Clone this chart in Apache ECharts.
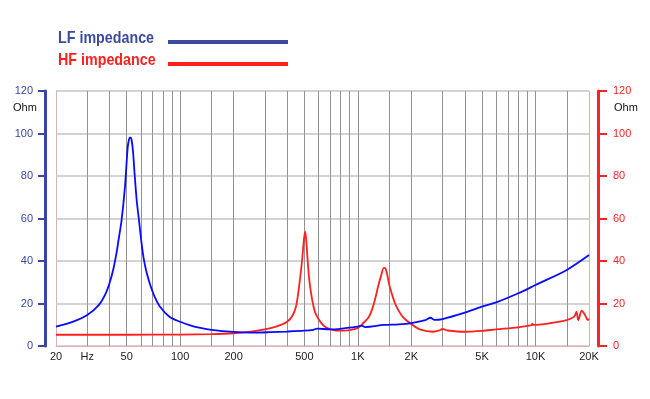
<!DOCTYPE html>
<html>
<head>
<meta charset="utf-8">
<script src="https://cdn.jsdelivr.net/npm/echarts@6/dist/echarts.min.js"></script>
<style>
  html, body { margin: 0; padding: 0; background: #fff; }
  #main { width: 650px; height: 399px; }
</style>
</head>
<body>
<div id="main"></div>
<script>
// LF impedance (blue, left axis)
var lfFreq = [20, 25, 30, 35, 38, 40, 42, 43.8, 45, 46.8, 48.9, 50.6, 51.5, 52.3, 53.2, 54.2, 55.5, 57, 58.6, 60.5, 62.5, 65, 68, 72, 77, 87, 100, 115, 130, 150, 200, 250, 320, 400, 500, 560, 590, 700, 850, 1000, 1050, 1100, 1400, 1700, 2000, 2400, 2560, 2700, 3000, 4000, 5000, 6000, 8000, 10000, 15000, 20000];
var lfOhm  = [9.1, 11.5, 14.6, 19.5, 24.5, 29.5, 36, 43.7, 50, 59.3, 75, 93, 97.2, 98.2, 97.2, 92, 80, 68, 59.3, 49, 40.5, 34, 28.5, 23, 18.5, 13.8, 11.4, 9.6, 8.5, 7.6, 6.6, 6.3, 6.5, 6.8, 7.2, 7.6, 8.2, 7.8, 8.4, 9.1, 9.6, 8.9, 9.9, 10.2, 10.8, 12.2, 13.3, 12.3, 12.7, 15.7, 18.5, 20.5, 24.8, 28.7, 35.8, 42.8];

// HF impedance (red, right axis)
var hfFreq = [20, 50, 100, 150, 200, 250, 300, 350, 400, 430, 450, 470, 485, 497, 505, 513, 520, 530, 545, 565, 580, 620, 660, 720, 790, 900, 1000, 1070, 1150, 1200, 1250, 1300, 1350, 1400, 1430, 1460, 1500, 1550, 1620, 1690, 1800, 1970, 2230, 2660, 2850, 3000, 3200, 4000, 5000, 6000, 8000, 9500, 9600, 9700, 12000, 15000, 16500, 17000, 17400, 18200, 19000, 19700, 20000];
var hfOhm  = [5.3, 5.3, 5.4, 5.6, 6.0, 6.8, 7.8, 9.2, 11.4, 14.5, 19, 30, 40, 50, 53.8, 49, 42, 33, 25, 18, 15, 11, 8.8, 7.6, 7.2, 7.5, 8.5, 10.7, 13.5, 17, 22, 28, 33, 36.8, 36.5, 34, 29, 24.8, 20, 16.9, 13.5, 10.7, 7.8, 6.7, 7.2, 8, 7.3, 6.7, 7.1, 7.8, 8.8, 9.8, 10.5, 9.9, 10.7, 12.2, 13.8, 16.1, 12.2, 16.6, 14.6, 12.2, 12.8];

// x grid lines and labels
var gridFreqs = [20, 30, 40, 50, 60, 70, 80, 90, 100, 150, 200, 300, 400, 500, 600, 700, 800, 900,
                 1000, 1500, 2000, 3000, 4000, 5000, 6000, 7000, 8000, 9000, 10000, 15000, 20000];
var xTickValues = [20, 30, 50, 100, 200, 500, 1000, 2000, 5000, 10000, 20000];
var xTickLabels = ['20', 'Hz', '50', '100', '200', '500', '1K', '2K', '5K', '10K', '20K'];

var blueAxis = '#3646a6';
var redAxis = '#ff2424';
var edgeColor = '#dcb2b2';
var legendFont = 'bold 17px "Liberation Sans", Arial, sans-serif';

var vColors = gridFreqs.map(function (f, i) {
    return (i == 0 || i == gridFreqs.length - 1) ? edgeColor : '#939393';
});

var chart = echarts.init(document.getElementById('main'));
var option = {
    animation: false,
    backgroundColor: '#fff',
    textStyle: { fontFamily: 'Liberation Sans, Arial, sans-serif' },
    grid: { left: 56, right: 61, top: 91, bottom: 53 },
    xAxis: {
        type: 'log',
        logBase: 10,
        min: 20,
        max: 20000,
        axisLine: { show: true, lineStyle: { color: edgeColor, width: 1 } },
        axisTick: { show: false, customValues: gridFreqs },
        axisLabel: {
            customValues: xTickValues,
            color: '#222',
            fontSize: 11,
            margin: 5,
            formatter: function (v) {
                for (var i = 0; i < xTickValues.length; i++) {
                    if (Math.abs(v - xTickValues[i]) / xTickValues[i] < 0.01) return xTickLabels[i];
                }
                return '';
            }
        },
        splitLine: { show: true, lineStyle: { color: vColors, width: 1 } }
    },
    yAxis: [
        {
            type: 'value',
            position: 'left',
            offset: 11,
            min: 0,
            max: 120,
            interval: 20,
            axisLine: { show: true, lineStyle: { color: blueAxis, width: 3 } },
            axisTick: { show: true, length: 7, lineStyle: { color: blueAxis, width: 2 } },
            axisLabel: { color: blueAxis, fontSize: 11, margin: 12 },
            splitLine: { show: true, lineStyle: { color: '#c4c4c4', width: 1.5 } }
        },
        {
            type: 'value',
            position: 'right',
            offset: 9,
            min: 0,
            max: 120,
            interval: 20,
            axisLine: { show: true, lineStyle: { color: redAxis, width: 3 } },
            axisTick: { show: true, length: 9, lineStyle: { color: redAxis, width: 2 } },
            axisLabel: { color: redAxis, fontSize: 11, margin: 15 },
            splitLine: { show: false }
        }
    ],
    series: [
        {
            name: 'HF impedance',
            type: 'line',
            yAxisIndex: 1,
            showSymbol: false,
            smooth: 0.3,
            lineStyle: { color: '#ff2020', width: 1.8 },
            data: hfFreq.map(function (f, i) { return [f, hfOhm[i]]; })
        },
        {
            name: 'LF impedance',
            type: 'line',
            yAxisIndex: 0,
            showSymbol: false,
            smooth: 0.3,
            lineStyle: { color: '#0a0aff', width: 1.8 },
            data: lfFreq.map(function (f, i) { return [f, lfOhm[i]]; })
        }
    ],
    graphic: [
        { type: 'text', x: 58, y: 30, scaleX: 0.84, style: { text: 'LF impedance', fill: '#3a4ba2', font: legendFont } },
        { type: 'line', shape: { x1: 168, y1: 42, x2: 288, y2: 42 }, style: { stroke: '#3a4ba2', lineWidth: 4 } },
        { type: 'text', x: 58, y: 52, scaleX: 0.84, style: { text: 'HF impedance', fill: '#ff2020', font: legendFont } },
        { type: 'line', shape: { x1: 168, y1: 64, x2: 288, y2: 64 }, style: { stroke: '#ff2020', lineWidth: 4 } },
        { type: 'text', left: 13, top: 102, style: { text: 'Ohm', fill: '#111', font: '11px "Liberation Sans", Arial' } },
        { type: 'text', left: 614, top: 102, style: { text: 'Ohm', fill: '#111', font: '11px "Liberation Sans", Arial' } }
    ]
};
chart.setOption(option);
</script>
</body>
</html>
